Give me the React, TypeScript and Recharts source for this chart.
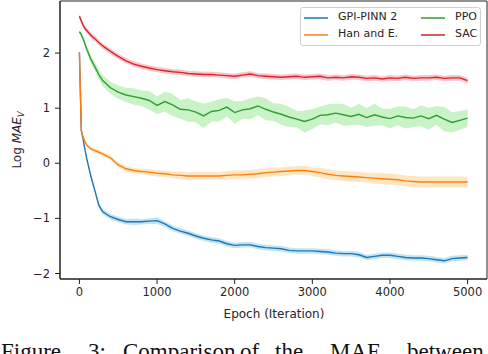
import React from 'react';
import { ComposedChart, Line, Area, XAxis, YAxis, ReferenceArea } from 'recharts';

const epochs = [0, 25, 50, 75, 100, 150, 200, 250, 300,
  400, 500, 600, 700, 800, 900, 1000, 1100, 1200, 1300, 1400, 1500, 1600, 1700, 1800, 1900,
  2000, 2100, 2200, 2300, 2400, 2500, 2600, 2700, 2800, 2900, 3000, 3100, 3200, 3300, 3400,
  3500, 3600, 3700, 3800, 3900, 4000, 4100, 4200, 4300, 4400, 4500, 4600, 4700, 4800, 4900, 5000];

const gpiMean = [2.0, 0.6, 0.42, 0.22, 0.05, -0.25, -0.5, -0.76, -0.88,
  -0.97, -1.02, -1.06, -1.06, -1.06, -1.05, -1.04, -1.1, -1.18, -1.23, -1.27, -1.32, -1.36, -1.39, -1.41, -1.46,
  -1.49, -1.48, -1.48, -1.51, -1.53, -1.54, -1.55, -1.58, -1.59, -1.59, -1.59, -1.6, -1.61, -1.63, -1.64,
  -1.64, -1.66, -1.71, -1.69, -1.67, -1.67, -1.69, -1.71, -1.72, -1.72, -1.73, -1.75, -1.77, -1.73, -1.72, -1.71];
const gpiSpread = [0.02, 0.03, 0.03, 0.04, 0.04, 0.04, 0.05, 0.05, 0.05,
  0.05, 0.05, 0.05, 0.06, 0.05, 0.05, 0.06, 0.05, 0.05, 0.05, 0.05, 0.05, 0.05, 0.05, 0.05, 0.05,
  0.05, 0.05, 0.05, 0.05, 0.05, 0.05, 0.05, 0.05, 0.05, 0.05, 0.05, 0.05, 0.05, 0.05, 0.05,
  0.05, 0.05, 0.05, 0.05, 0.05, 0.05, 0.05, 0.05, 0.05, 0.05, 0.05, 0.05, 0.05, 0.05, 0.05, 0.05];

const hanMean = [2.02, 0.58, 0.47, 0.38, 0.32, 0.26, 0.23, 0.2, 0.17,
  0.1, -0.03, -0.1, -0.13, -0.15, -0.16, -0.18, -0.19, -0.21, -0.22, -0.23, -0.23, -0.23, -0.23, -0.23, -0.22,
  -0.21, -0.21, -0.2, -0.19, -0.17, -0.16, -0.15, -0.14, -0.13, -0.13, -0.15, -0.17, -0.2, -0.22, -0.23,
  -0.24, -0.25, -0.26, -0.27, -0.28, -0.29, -0.3, -0.32, -0.33, -0.34, -0.34, -0.34, -0.34, -0.34, -0.34, -0.34];
const hanSpread = [0.01, 0.02, 0.03, 0.03, 0.03, 0.03, 0.04, 0.04, 0.04,
  0.04, 0.05, 0.05, 0.05, 0.05, 0.06, 0.06, 0.06, 0.06, 0.07, 0.07, 0.07, 0.07, 0.07, 0.07, 0.08,
  0.08, 0.08, 0.08, 0.08, 0.08, 0.08, 0.08, 0.08, 0.08, 0.08, 0.08, 0.09, 0.09, 0.09, 0.09,
  0.09, 0.09, 0.09, 0.1, 0.1, 0.1, 0.1, 0.1, 0.1, 0.1, 0.1, 0.1, 0.1, 0.1, 0.1, 0.1];

const ppoMean = [2.39, 2.33, 2.25, 2.15, 2.05, 1.88, 1.75, 1.61, 1.5,
  1.37, 1.29, 1.24, 1.21, 1.18, 1.14, 1.05, 1.12, 1.06, 0.98, 0.97, 0.93, 0.86, 0.94, 0.96, 1.02,
  0.92, 0.97, 0.99, 1.04, 0.98, 0.93, 0.89, 0.84, 0.8, 0.76, 0.8, 0.87, 0.88, 0.91, 0.88,
  0.85, 0.89, 0.83, 0.88, 0.84, 0.81, 0.86, 0.83, 0.82, 0.86, 0.81, 0.87, 0.8, 0.74, 0.78, 0.82];
const ppoSpread = [0.03, 0.04, 0.05, 0.05, 0.06, 0.07, 0.08, 0.09, 0.1,
  0.11, 0.12, 0.13, 0.15, 0.14, 0.17, 0.16, 0.18, 0.2, 0.17, 0.21, 0.19, 0.22, 0.18, 0.2, 0.17,
  0.2, 0.16, 0.19, 0.17, 0.2, 0.16, 0.19, 0.18, 0.15, 0.2, 0.18, 0.16, 0.19, 0.17, 0.2,
  0.16, 0.19, 0.17, 0.2, 0.15, 0.18, 0.17, 0.2, 0.16, 0.19, 0.2, 0.17, 0.22, 0.18, 0.17, 0.16];

const sacMean = [2.67, 2.58, 2.5, 2.44, 2.4, 2.32, 2.26, 2.19, 2.13,
  2.03, 1.94, 1.86, 1.8, 1.76, 1.73, 1.7, 1.68, 1.66, 1.65, 1.63, 1.62, 1.61, 1.61, 1.6, 1.59,
  1.58, 1.6, 1.62, 1.59, 1.58, 1.57, 1.56, 1.57, 1.58, 1.56, 1.57, 1.58, 1.55, 1.56, 1.55,
  1.57, 1.56, 1.54, 1.55, 1.53, 1.55, 1.54, 1.56, 1.54, 1.55, 1.55, 1.56, 1.54, 1.55, 1.55, 1.5];
const sacSpread = [0.04, 0.05, 0.05, 0.05, 0.05, 0.05, 0.05, 0.05, 0.05,
  0.05, 0.05, 0.05, 0.05, 0.05, 0.05, 0.05, 0.05, 0.05, 0.05, 0.05, 0.05, 0.05, 0.05, 0.05, 0.05,
  0.05, 0.05, 0.05, 0.05, 0.05, 0.05, 0.05, 0.05, 0.05, 0.05, 0.05, 0.05, 0.05, 0.05, 0.05,
  0.05, 0.05, 0.05, 0.05, 0.05, 0.05, 0.05, 0.05, 0.05, 0.05, 0.05, 0.05, 0.05, 0.05, 0.05, 0.05];

const xTicks = [0, 1000, 2000, 3000, 4000, 5000];
const yTicks = [-2, -1, 0, 1, 2];

const seriesNames = ['GPI-PINN 2', 'Han and E.', 'PPO', 'SAC'];
const lineColors = ['#1f77b4', '#ff7f0e', '#2ca02c', '#d62728'];
const bandColors = ['#b7def0', '#fee2b8', '#bff0bc', '#f9bcc5'];

const data = epochs.map((e, i) => ({
  epoch: e,
  gpi: gpiMean[i],
  gpiBand: [gpiMean[i] - gpiSpread[i], gpiMean[i] + gpiSpread[i]],
  han: hanMean[i],
  hanBand: [hanMean[i] - hanSpread[i], hanMean[i] + hanSpread[i]],
  ppo: ppoMean[i],
  ppoBand: [ppoMean[i] - ppoSpread[i], ppoMean[i] + ppoSpread[i]],
  sac: sacMean[i],
  sacBand: [sacMean[i] - sacSpread[i], sacMean[i] + sacSpread[i]],
}));

const keys = ['gpi', 'han', 'ppo', 'sac'];
const fmt = (v: number) => (v < 0 ? '\u2212' + Math.abs(v) : String(v));
const tickFont = { fill: '#262626', fontSize: 11.5, fontFamily: 'DejaVu Sans' };

export default function App() {
  return (
    <div style={{ position: 'absolute', left: 0, top: 0, width: 488, height: 354, overflow: 'hidden', background: '#fff' }}>
      <ComposedChart width={488} height={354} data={data} margin={{ top: 1, right: 1, bottom: 0, left: 0 }}>
        <XAxis dataKey="epoch" type="number" domain={[-250, 5250]} ticks={xTicks} height={75}
          allowDataOverflow tickSize={5} tickMargin={4} tick={tickFont}
          axisLine={{ stroke: '#222' }} tickLine={{ stroke: '#222' }} />
        <YAxis type="number" domain={[-2.1, 2.945]} ticks={yTicks} width={60} allowDataOverflow
          tickSize={5} tickMargin={5} tick={tickFont} tickFormatter={fmt}
          axisLine={{ stroke: '#222' }} tickLine={{ stroke: '#222' }} />
        {keys.map((k, i) => (
          <Area key={k + 'b'} dataKey={k + 'Band'} stroke="none" fill={bandColors[i]} fillOpacity={0.85}
            isAnimationActive={false} activeDot={false} />
        ))}
        {keys.map((k, i) => (
          <Line key={k} dataKey={k} stroke={lineColors[i]} strokeWidth={1.4} dot={false}
            isAnimationActive={false} activeDot={false} />
        ))}
        <ReferenceArea x1={-250} x2={5250} y1={-2.1} y2={2.945} fill="none" stroke="#222" strokeWidth={1} ifOverflow="visible" />
      </ComposedChart>
      <svg width={488} height={354} style={{ position: 'absolute', left: 0, top: 0, pointerEvents: 'none' }}>
        <text x={274} y={318} textAnchor="middle" fontFamily="DejaVu Sans" fontSize={12} fill="#262626">Epoch (Iteration)</text>
        <text transform="translate(20.5,140) rotate(-90)" textAnchor="middle" fontFamily="DejaVu Sans" fontSize={12} fill="#262626">
          Log <tspan fontStyle="italic">MAE</tspan><tspan fontStyle="italic" fontSize={8.5} dy={3}>V</tspan>
        </text>
        <g fontFamily="Liberation Serif" fontSize={23} fill="#111">
          <text x={1} y={359}>Figure</text>
          <text x={88} y={359}>3:</text>
          <text x={123} y={359}>Comparison</text>
          <text x={240} y={359}>of</text>
          <text x={275} y={359}>the</text>
          <text x={330} y={359}>MAE</text>
          <text x={407} y={359}>between</text>
        </g>
      </svg>
      <div style={{ position: 'absolute', left: 300, top: 7, width: 179, height: 37, border: '1px solid #d0d0d0', borderRadius: 3, background: 'rgba(255,255,255,0.85)', fontFamily: 'DejaVu Sans', fontSize: 11, color: '#262626' }}>
        {seriesNames.map((name, i) => {
          const col = i < 2 ? 0 : 1;
          const row = i % 2;
          const left = col === 0 ? 3 : 120;
          const top = row === 0 ? 9 : 26;
          return (
            <div key={name}>
              <div style={{ position: 'absolute', left, top, width: 24, height: 2, background: lineColors[i], opacity: 0.75 }} />
              <div style={{ position: 'absolute', left: left + 34, top: top - 7, whiteSpace: 'nowrap', lineHeight: '14px' }}>{name}</div>
            </div>
          );
        })}
      </div>
    </div>
  );
}
